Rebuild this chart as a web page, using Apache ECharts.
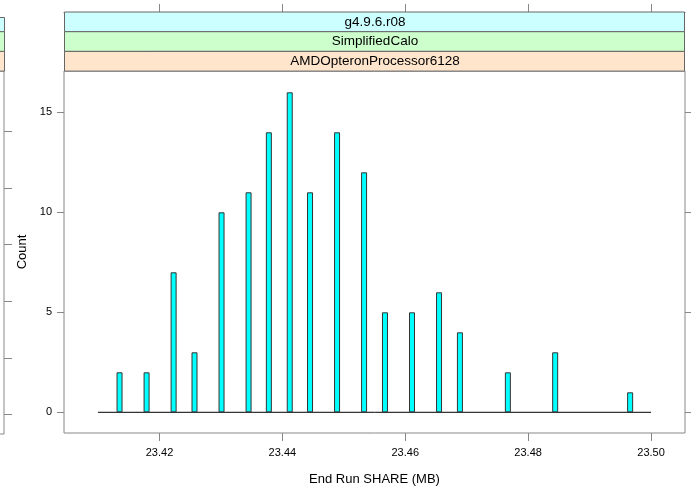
<!DOCTYPE html>
<html>
<head>
<meta charset="utf-8">
<script src="https://cdn.jsdelivr.net/npm/echarts@6/dist/echarts.min.js"></script>
<style>
	html, body { margin: 0; padding: 0; background: #fff; }
	#box { width: 691px; height: 491px; }
</style>
</head>
<body>
<div id="box"></div>
<script>
	// histogram bins (MB) and counts
	let shareMB = [23.4135, 23.4179, 23.4223, 23.4257, 23.4301, 23.4345, 23.4378, 23.4412, 23.4445,
		23.4489, 23.4533, 23.4567, 23.4611, 23.4655, 23.4689, 23.4767, 23.4844, 23.4966];
	let counts = [2, 2, 7, 3, 10, 11, 14, 16, 11, 14, 12, 5, 5, 6, 4, 2, 3, 1];
	let baseRange = [23.41, 23.50];
	let xTicks = [23.42, 23.44, 23.46, 23.48, 23.50];
	let yTicks = [0, 5, 10, 15];
	let leftTicks = [0, 1, 2, 3, 4, 5];
	let strips = ['g4.9.6.r08', 'SimplifiedCalo', 'AMDOpteronProcessor6128'];
	let stripColors = ['#ccffff', '#ccffcc', '#ffe5cc'];

	let font = 'Liberation Sans, Arial, sans-serif';
	let xMin = 23.40446, xMax = 23.50553;
	let app = echarts.init(document.getElementById('box'));

	let barData = shareMB.map(function(v, i) {
		return [v, counts[i]];
	});

	// strip boxes above panels
	let graphics = [];
	strips.forEach(function(s, i) {
		let y = 12 + i * 19.7;
		graphics.push({
			type: 'rect',
			shape: { x: 64.5, y: y, width: 620, height: 19.7 },
			style: { fill: stripColors[i], stroke: '#666', lineWidth: 1 },
			z: 10
		});
		graphics.push({
			type: 'text',
			x: 375, y: y + 10,
			style: { text: s, fill: '#000', font: '13.5px ' + font, align: 'center', verticalAlign: 'middle' },
			z: 11
		});
		// partial strip of the neighbouring panel on the left
		graphics.push({
			type: 'rect',
			shape: { x: -10, y: i == 0 ? 17.5 : y, width: 14.5, height: i == 0 ? 14.2 : 19.7 },
			style: { fill: stripColors[i], stroke: '#666', lineWidth: 1 },
			z: 10
		});
	});

	let option = {
		animation: false,
		backgroundColor: '#fff',
		textStyle: { fontFamily: font },
		graphic: graphics,
		grid: [{
			left: 64, top: 71, right: 6, bottom: 58,
			outerBoundsMode: 'none',
			show: true, borderColor: '#888', borderWidth: 1
		}, {
			right: 687, width: 300, top: 71, bottom: 57,
			outerBoundsMode: 'none',
			show: true, borderColor: '#888', borderWidth: 1
		}],
		xAxis: [{
			type: 'value', gridIndex: 0, position: 'bottom',
			min: xMin, max: xMax,
			name: 'End Run SHARE (MB)', nameLocation: 'middle', nameGap: 40,
			nameTextStyle: { fontSize: 13, color: '#000' },
			axisLine: { show: false, onZero: false },
			splitLine: { show: false },
			axisTick: { show: false },
			axisLabel: {
				fontSize: 11, color: '#000', margin: 14, customValues: xTicks,
				formatter: function(v) { return v.toFixed(2); }
			}
		}, {
			type: 'value', gridIndex: 0, position: 'top', offset: 59,
			min: xMin, max: xMax,
			axisLine: { show: true, onZero: false, lineStyle: { color: '#666' } },
			splitLine: { show: false },
			axisTick: { show: true, length: 8, lineStyle: { color: '#888' }, customValues: xTicks },
			axisLabel: { show: false }
		}, {
			type: 'value', gridIndex: 1, show: false
		}, {
			// tick marks under the panel, hung from a top axis moved down
			type: 'value', gridIndex: 0, position: 'top', offset: -362,
			min: xMin, max: xMax,
			axisLine: { show: false, onZero: false },
			splitLine: { show: false },
			axisTick: { show: true, inside: true, length: 8, lineStyle: { color: '#888' }, customValues: xTicks },
			axisLabel: { show: false }
		}],
		yAxis: [{
			type: 'value', gridIndex: 0,
			min: -1.035, max: 17.065,
			name: 'Count', nameLocation: 'middle', nameGap: 34,
			nameTextStyle: { fontSize: 13, color: '#000' },
			axisLine: { show: false, onZero: false },
			splitLine: { show: false },
			axisTick: { show: true, length: 7, lineStyle: { color: '#888' }, customValues: yTicks },
			axisLabel: { fontSize: 11, color: '#000', margin: 12, customValues: yTicks }
		}, {
			type: 'value', gridIndex: 0, position: 'right',
			min: -1.035, max: 17.065,
			axisLine: { show: false, onZero: false },
			splitLine: { show: false },
			axisTick: { show: true, length: 6, lineStyle: { color: '#888' }, customValues: yTicks },
			axisLabel: { show: false }
		}, {
			type: 'value', gridIndex: 1, position: 'right',
			min: -0.349, max: 6.074,
			axisLine: { show: false, onZero: false },
			splitLine: { show: false },
			axisTick: { show: true, length: 8, lineStyle: { color: '#888' }, customValues: leftTicks },
			axisLabel: { show: false }
		}],
		series: [{
			type: 'line',
			xAxisIndex: 0, yAxisIndex: 0,
			data: [[baseRange[0], 0], [baseRange[1], 0]],
			symbol: 'none',
			lineStyle: { color: '#000', width: 1 },
			z: 1
		}, {
			type: 'bar',
			xAxisIndex: 0, yAxisIndex: 0,
			data: barData,
			barWidth: 6,
			itemStyle: { color: '#00ffff', borderColor: '#333', borderWidth: 1 },
			z: 2
		}]
	};
	app.setOption(option);
</script>
</body>
</html>
